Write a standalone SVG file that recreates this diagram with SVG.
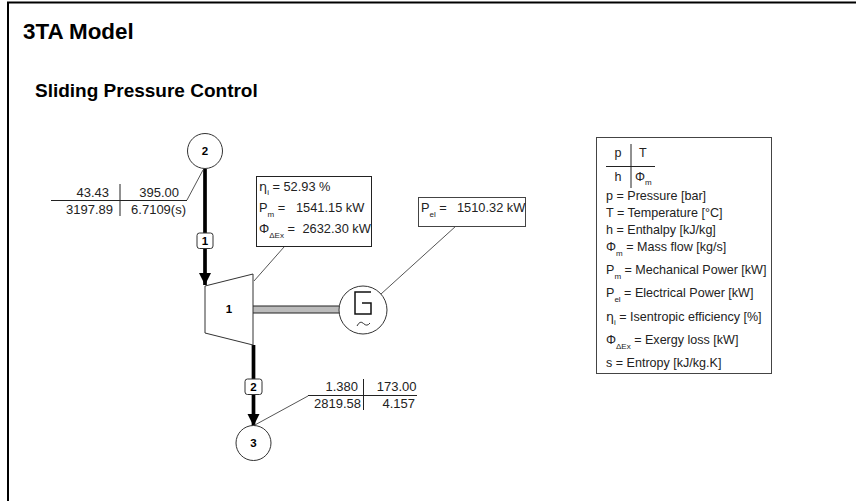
<svg xmlns="http://www.w3.org/2000/svg" width="856" height="501" viewBox="0 0 856 501">
<style>
text{font-family:"Liberation Sans",Arial,sans-serif;fill:#222}
.t{font-size:13px}
.l{font-size:12.800px}
.k{font-size:12.550px}
.e{text-anchor:end}
.m{text-anchor:middle}
.b{font-weight:bold;font-size:11.500px;fill:#000;text-anchor:middle}
.s{font-size:8px}
.ln{stroke:#222;stroke-width:1;fill:none}
.thin{stroke:#555;stroke-width:1;fill:none}
.c{fill:#fff;stroke:#333;stroke-width:1}
.pipe{stroke:#000;stroke-width:3.700;fill:none}
.tag{fill:#fff;stroke:#333;stroke-width:1}
</style>
<defs>
<marker id="ah" markerUnits="userSpaceOnUse" markerWidth="14" markerHeight="13" refX="12" refY="6.500" orient="auto"><path d="M0 0.500L12 6.500L0 12.500Z" fill="#000"/></marker>
</defs>
<rect width="856" height="501" fill="#fff"/>
<path d="M8 501V2.500H856" fill="none" stroke="#000" stroke-width="2"/>
<text x="23" y="39" font-size="22.400" font-weight="bold" style="fill:#000">3TA Model</text>
<text x="35" y="97" font-size="19" font-weight="bold" style="fill:#000">Sliding Pressure Control</text>
<g id="connectors">
<path class="pipe" d="M205 169V285" marker-end="url(#ah)"/>
<path class="pipe" d="M253.500 345V426" marker-end="url(#ah)"/>
<path d="M253 309.500H340" stroke="#222" stroke-width="8" fill="none"/>
<path d="M253 309.500H340" stroke="#bbb" stroke-width="6" fill="none"/>
<path class="thin" d="M203 170L187 200"/>
<path class="thin" d="M254 281L284 247"/>
<path class="thin" d="M381 294L456 226"/>
<path class="thin" d="M253 426L308 396"/>
</g>
<g id="node-2"><circle class="c" cx="205" cy="151" r="17.500"/><text class="b" x="205" y="154.500">2</text></g>
<g id="node-3"><circle class="c" cx="253.500" cy="443" r="17.500"/><text class="b" x="253.500" y="446.500">3</text></g>
<g id="node-1"><path class="c" d="M205 286L253 274V345L205 333Z"/><text class="b" x="229" y="313">1</text></g>
<g id="generator"><circle class="c" cx="363" cy="310" r="24"/>
<path d="M371 292H355V314H371V303H362" fill="none" stroke="#111" stroke-width="1.500"/>
<path d="M357 326Q360 320 363.500 323.500T370 323" fill="none" stroke="#333" stroke-width="1"/></g>
<g id="tag-1"><rect class="tag" x="197" y="233" width="16" height="15.500" rx="2.500"/><text class="b" x="205" y="245">1</text></g>
<g id="tag-2"><rect class="tag" x="245" y="379" width="17" height="15.500" rx="2.500"/><text class="b" x="253.500" y="391">2</text></g>
<g id="state-2">
<path class="ln" d="M51 200.500H187M120 184V216"/>
<text class="t e" x="109" y="197">43.43</text><text class="t e" x="179" y="197">395.00</text>
<text class="t e" x="113" y="214">3197.89</text><text class="t e" x="186" y="214">6.7109(s)</text>
</g>
<g id="state-3">
<path class="ln" d="M308 395.500H417M363.500 379V410"/>
<text class="t e" x="358" y="391">1.380</text><text class="t e" x="416.500" y="391">173.00</text>
<text class="t e" x="361" y="408">2819.58</text><text class="t e" x="415" y="408">4.157</text>
</g>
<g id="turbine-data">
<rect x="256.500" y="176.500" width="115" height="70" fill="#fff" stroke="#222"/>
<text class="l" x="259" y="191"><tspan font-family="DejaVu Sans">η</tspan><tspan class="s" dy="4">i</tspan><tspan dy="-4"> = 52.93 %</tspan></text>
<text class="l" x="259" y="212">P<tspan class="s" dy="5">m</tspan><tspan dy="-5"> =</tspan></text><text class="l" x="296" y="212">1541.15 kW</text>
<text class="l" x="259" y="233">Φ<tspan class="s" dy="5">ΔEx</tspan><tspan dy="-5"> =</tspan></text><text class="l" x="302.500" y="233">2632.30 kW</text>
</g>
<g id="generator-data">
<rect x="418.500" y="197.500" width="107" height="29" fill="#fff" stroke="#444"/>
<text class="l" x="421" y="212">P<tspan class="s" dy="5">el</tspan><tspan dy="-5"> =</tspan></text><text class="l" x="457" y="212">1510.32 kW</text>
</g>
<g id="legend">
<rect x="596.500" y="137.500" width="175" height="236" fill="#fff" stroke="#444"/>
<path class="ln" d="M606 166.500H655M631 144V188"/>
<text class="k m" x="618" y="157">p</text><text class="k" x="639" y="157">T</text>
<text class="k m" x="618" y="181">h</text><text class="k" x="635" y="181">Φ<tspan class="s" dy="4">m</tspan></text>
<text class="k" x="606" y="200">p = Pressure [bar]</text>
<text class="k" x="606" y="217">T = Temperature [°C]</text>
<text class="k" x="606" y="234">h = Enthalpy [kJ/kg]</text>
<text class="k" x="606" y="251">Φ<tspan class="s" dy="5">m</tspan><tspan dy="-5"> = Mass flow [kg/s]</tspan></text>
<text class="k" x="606" y="274">P<tspan class="s" dy="5">m</tspan><tspan dy="-5"> = Mechanical Power [kW]</tspan></text>
<text class="k" x="606" y="297">P<tspan class="s" dy="5">el</tspan><tspan dy="-5"> = Electrical Power [kW]</tspan></text>
<text class="k" x="606" y="321"><tspan font-family="DejaVu Sans">η</tspan><tspan class="s" dy="4">i</tspan><tspan dy="-4"> = Isentropic efficiency [%]</tspan></text>
<text class="k" x="606" y="344">Φ<tspan class="s" dy="5">ΔEx</tspan><tspan dy="-5"> = Exergy loss [kW]</tspan></text>
<text class="k" x="606" y="367">s = Entropy [kJ/kg.K]</text>
</g>
</svg>
